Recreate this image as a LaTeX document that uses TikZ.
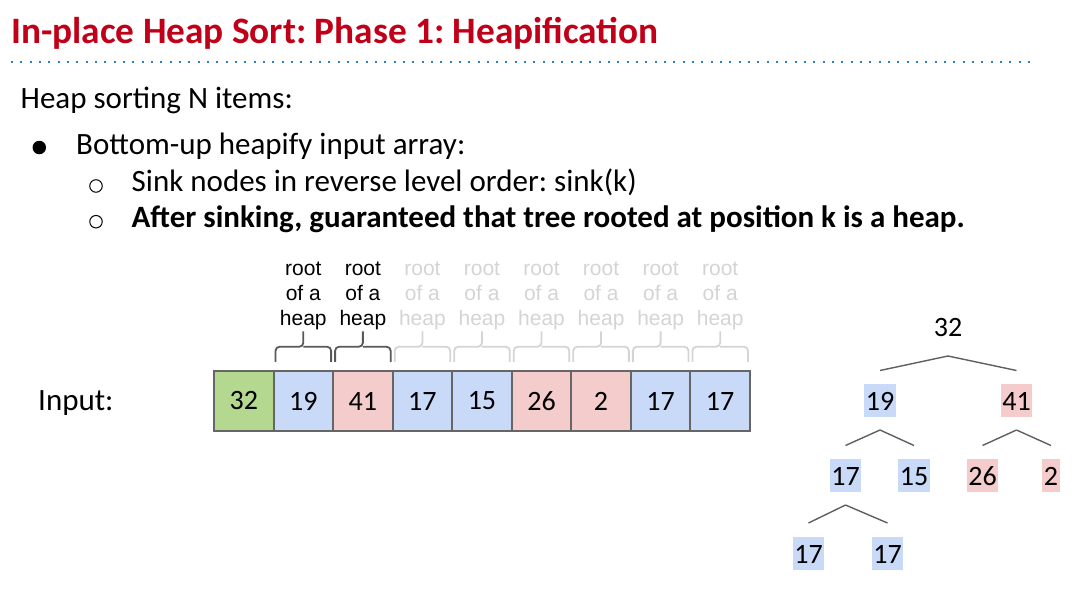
\documentclass[tikz,border=0pt]{standalone}
\usepackage{fontspec}
\setmainfont{Carlito}
\newfontfamily\arialfont{Liberation Sans}
\usetikzlibrary{calc}
\frenchspacing
\definecolor{titlered}{HTML}{C00018}
\definecolor{rule}{HTML}{2F7FC8}
\definecolor{cellgreen}{HTML}{B4D88F}
\definecolor{cellblue}{HTML}{C9DAF8}
\definecolor{cellred}{HTML}{F4CCCC}
\definecolor{cellline}{HTML}{666666}
\definecolor{faded}{HTML}{D4D4D4}
\definecolor{bracedark}{HTML}{595959}
\definecolor{treeline}{HTML}{5F5F5F}
\begin{document}
\begin{tikzpicture}[x=1pt,y=-1pt,
  body/.style={anchor=base west,inner sep=0pt,font=\fontsize{31}{36}\selectfont},
  cell/.style={draw=cellline,line width=2pt,minimum width=59.55pt,minimum height=60.5pt,
    inner sep=0pt,font=\fontsize{28}{31}\selectfont},
  lab/.style={anchor=base,inner sep=0pt,font=\arialfont\fontsize{21}{25}\selectfont},
  brc/.style={line width=1.8pt,rounded corners=4pt},
  tnode/.style={inner sep=0pt,inner xsep=1.6pt,text height=26.7pt,text depth=6.3pt,
    font=\fontsize{28}{31}\selectfont},
  tedge/.style={draw=treeline,line width=1.4pt}]
\useasboundingbox (0,0) rectangle (1079,589);

% heading and dotted rule
\node[anchor=base west,inner sep=0pt,text=titlered,font=\bfseries\fontsize{37.3}{41}\selectfont]
  (title) at (11,43) {In-place Heap Sort: Phase 1: Heapification};
\coordinate (ruleL) at (11,61.5);
\coordinate (ruleR) at (1036,61.5);
\draw[rule,line width=2pt,dash pattern=on 2pt off 7.33pt] (ruleL) -- (ruleR);

% bullet list
\node[body] (intro) at (20.5,108.5) {Heap sorting N items:};
\node[circle,fill=black,inner sep=0pt,minimum size=13.5pt] (b1) at (39.3,147.5) {};
\node[body] (item1) at (76,154) {Bottom-up heapify input array:};
\node[circle,draw=black,line width=1pt,inner sep=0pt,minimum size=12.5pt] (b2) at (96,186) {};
\node[body] (item2) at (131.5,191) {Sink nodes in reverse level order: sink(k)};
\node[circle,draw=black,line width=1pt,inner sep=0pt,minimum size=12.5pt] (b3) at (96,221.7) {};
\node[body,font=\bfseries\fontsize{31}{36}\selectfont] (item3) at (131.5,227.7)
  {After sinking, guaranteed that tree rooted at position k is a heap.};

% input array
\node[body] (inlab) at (38,410) {Input:};
\foreach \v/\c [count=\i] in {32/cellgreen,19/cellblue,41/cellred,17/cellblue,15/cellblue,
                               26/cellred,2/cellred,17/cellblue,17/cellblue}
  \node[cell,fill=\c] (c\i) at ({214+59.55*(\i-0.5)},401) {\v};

% brace anchor points above each cell
\foreach \i in {2,...,9}{
  \coordinate (bl\i) at ($(c\i.north west)+(3,-8)$);
  \coordinate (br\i) at ($(c\i.north east)+(-3,-8)$);
  \coordinate (bt\i) at ($(c\i.north)+(0,-38.5)$);
  \coordinate (bm\i) at ($(c\i.north)+(0,-23)$);
}
\foreach \i in {2,3}{
  \draw[brc,bracedark] (bl\i) |- (bm\i) -- (bt\i);
  \draw[brc,bracedark] (br\i) |- (bm\i);
}
\foreach \i in {4,...,9}{
  \draw[brc,faded] (bl\i) |- (bm\i) -- (bt\i);
  \draw[brc,faded] (br\i) |- (bm\i);
}
\foreach \i/\col in {2/black,3/black,4/faded,5/faded,6/faded,7/faded,8/faded,9/faded}{
  \node[lab,text=\col] (la\i) at ($(c\i.north)+(0,-94)$) {root};
  \node[lab,text=\col] (lb\i) at ($(c\i.north)+(0,-69)$) {of a};
  \node[lab,text=\col] (lc\i) at ($(c\i.north)+(0,-44)$) {heap};
}

% tree view
\node[tnode] (t1) at (948,326.5) {32};
\node[tnode,fill=cellblue] (t2) at (880,400.5) {19};
\node[tnode,fill=cellred] (t3) at (1016.5,400.5) {41};
\node[tnode,fill=cellblue] (t4) at (845.5,475.5) {17};
\node[tnode,fill=cellblue] (t5) at (914,475.5) {15};
\node[tnode,fill=cellred] (t6) at (982.5,475.5) {26};
\node[tnode,fill=cellred] (t7) at (1051,475.5) {2};
\node[tnode,fill=cellblue] (t8) at (808.5,553) {17};
\node[tnode,fill=cellblue] (t9) at (887.5,553) {17};
\foreach \p/\ch in {t1/t2,t1/t3,t2/t4,t2/t5,t3/t6,t3/t7,t4/t8,t4/t9}
  \draw[tedge] ($(\p)+(0,29.5)$) -- ($(\ch)+(0,-30)$);
\end{tikzpicture}
\end{document}
